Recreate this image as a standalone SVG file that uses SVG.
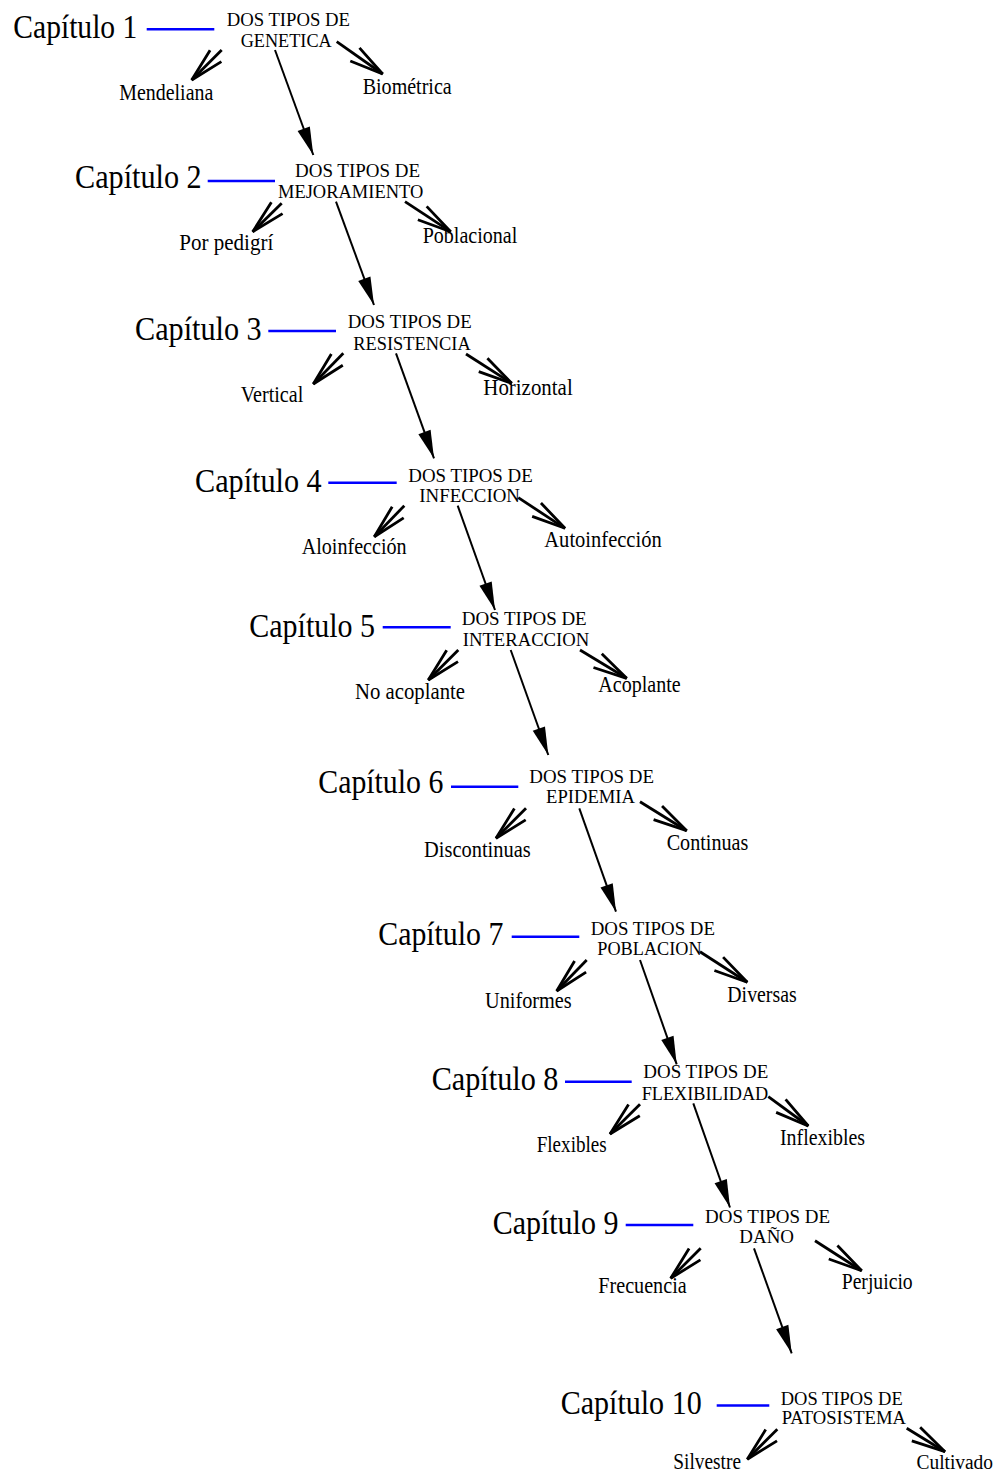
<svg xmlns="http://www.w3.org/2000/svg" width="1000" height="1476" viewBox="0 0 1000 1476">
<style>
text{font-family:"Liberation Serif","Times New Roman",serif;fill:#000}
.cap{font-size:34px}
.nd{font-size:19px}
.lf{font-size:22.5px}
.blue{stroke:#0000ff;stroke-width:2.5;fill:none}
.side{stroke:#000;stroke-width:2.8;fill:none;marker-end:url(#open)}
.main{stroke:#000;stroke-width:2;fill:none;marker-end:url(#solid)}
</style>
<defs>
<marker id="open" markerUnits="userSpaceOnUse" viewBox="-40 -12 44 24" markerWidth="44" markerHeight="24" refX="0" refY="0" orient="auto" overflow="visible">
<path d="M-34,-8 L0,0 L-34,8" fill="none" stroke="#000" stroke-width="2.8"/>
</marker>
<marker id="solid" markerUnits="userSpaceOnUse" viewBox="-30 -8 32 16" markerWidth="32" markerHeight="16" refX="0" refY="0" orient="auto" overflow="visible">
<path d="M-28,-6.5 L0,0 L-28,6.5 Z" fill="#000"/>
</marker>
</defs>
<rect width="1000" height="1476" fill="#fff"/>

<g id="connectors">
<g id="blue-lines">
<line class="blue" x1="146.7" y1="29.3" x2="214.3" y2="29.3"/>
<line class="blue" x1="207.7" y1="181" x2="275" y2="181"/>
<line class="blue" x1="268.3" y1="331" x2="336" y2="331"/>
<line class="blue" x1="328.3" y1="482.7" x2="396.7" y2="482.7"/>
<line class="blue" x1="382.7" y1="627.3" x2="450.7" y2="627.3"/>
<line class="blue" x1="451" y1="786.7" x2="518.3" y2="786.7"/>
<line class="blue" x1="511.7" y1="936.7" x2="579.3" y2="936.7"/>
<line class="blue" x1="565" y1="1081.7" x2="631.7" y2="1081.7"/>
<line class="blue" x1="625.7" y1="1225" x2="693.3" y2="1225"/>
<line class="blue" x1="716.7" y1="1405.5" x2="769.3" y2="1405.5"/>
</g>
<g id="side-arrows">
<line class="side" x1="221.7" y1="50" x2="191.7" y2="80"/>
<line class="side" x1="336.7" y1="41.7" x2="382.7" y2="74"/>
<line class="side" x1="281.7" y1="203.3" x2="252.7" y2="231.7"/>
<line class="side" x1="405" y1="201.7" x2="450.7" y2="231.7"/>
<line class="side" x1="343.3" y1="353.3" x2="313.3" y2="384"/>
<line class="side" x1="466" y1="354" x2="511.7" y2="383.3"/>
<line class="side" x1="404.3" y1="505.7" x2="374.3" y2="536.7"/>
<line class="side" x1="518.3" y1="497.7" x2="565" y2="528.3"/>
<line class="side" x1="458.3" y1="650" x2="428.3" y2="680"/>
<line class="side" x1="580" y1="650" x2="626.7" y2="678.3"/>
<line class="side" x1="526" y1="808.3" x2="496" y2="838.3"/>
<line class="side" x1="640" y1="801.7" x2="686.7" y2="830.7"/>
<line class="side" x1="586.7" y1="960" x2="556.7" y2="991"/>
<line class="side" x1="700" y1="951.7" x2="747.3" y2="982.3"/>
<line class="side" x1="640" y1="1104.3" x2="610" y2="1134"/>
<line class="side" x1="768.3" y1="1096.7" x2="808.3" y2="1126"/>
<line class="side" x1="700.7" y1="1248.3" x2="670.7" y2="1278.3"/>
<line class="side" x1="815" y1="1240.7" x2="861.7" y2="1270.7"/>
<line class="side" x1="777.3" y1="1429.3" x2="747.3" y2="1459.3"/>
<line class="side" x1="906.7" y1="1428.3" x2="945" y2="1451.7"/>
</g>
<g id="main-arrows">
<line class="main" x1="275" y1="50" x2="313.3" y2="155"/>
<line class="main" x1="336" y1="201.7" x2="374" y2="305"/>
<line class="main" x1="396" y1="353.3" x2="434" y2="458.3"/>
<line class="main" x1="457.7" y1="505.7" x2="495" y2="610"/>
<line class="main" x1="510.7" y1="650" x2="548.3" y2="755"/>
<line class="main" x1="579.3" y1="808.3" x2="616" y2="911.7"/>
<line class="main" x1="640" y1="960" x2="676.7" y2="1064.3"/>
<line class="main" x1="693.3" y1="1103.3" x2="730" y2="1207.5"/>
<line class="main" x1="754" y1="1248.3" x2="791.7" y2="1353.3"/>
</g>
</g>

<g id="cap1"><text class="cap" x="13.3" y="37.5" textLength="124" lengthAdjust="spacingAndGlyphs">Capítulo 1</text></g>
<g id="cap2"><text class="cap" x="75" y="187.5" textLength="126.7" lengthAdjust="spacingAndGlyphs">Capítulo 2</text></g>
<g id="cap3"><text class="cap" x="135" y="340" textLength="126.7" lengthAdjust="spacingAndGlyphs">Capítulo 3</text></g>
<g id="cap4"><text class="cap" x="195" y="491.5" textLength="126.7" lengthAdjust="spacingAndGlyphs">Capítulo 4</text></g>
<g id="cap5"><text class="cap" x="249.3" y="636.5" textLength="125.7" lengthAdjust="spacingAndGlyphs">Capítulo 5</text></g>
<g id="cap6"><text class="cap" x="318.3" y="793" textLength="125" lengthAdjust="spacingAndGlyphs">Capítulo 6</text></g>
<g id="cap7"><text class="cap" x="378.3" y="945" textLength="125" lengthAdjust="spacingAndGlyphs">Capítulo 7</text></g>
<g id="cap8"><text class="cap" x="431.7" y="1090" textLength="126.7" lengthAdjust="spacingAndGlyphs">Capítulo 8</text></g>
<g id="cap9"><text class="cap" x="492.7" y="1233.5" textLength="125.7" lengthAdjust="spacingAndGlyphs">Capítulo 9</text></g>
<g id="cap10"><text class="cap" x="560.7" y="1414" textLength="141" lengthAdjust="spacingAndGlyphs">Capítulo 10</text></g>

<g id="node1"><text class="nd" x="226.7" y="26" textLength="123.3" lengthAdjust="spacingAndGlyphs">DOS TIPOS DE</text><text class="nd" x="240.7" y="46.7" textLength="91" lengthAdjust="spacingAndGlyphs">GENETICA</text></g>
<g id="node2"><text class="nd" x="295" y="176.7" textLength="125" lengthAdjust="spacingAndGlyphs">DOS TIPOS DE</text><text class="nd" x="278" y="198.3" textLength="145.3" lengthAdjust="spacingAndGlyphs">MEJORAMIENTO</text></g>
<g id="node3"><text class="nd" x="347.7" y="328.3" textLength="124" lengthAdjust="spacingAndGlyphs">DOS TIPOS DE</text><text class="nd" x="353.3" y="350" textLength="117.4" lengthAdjust="spacingAndGlyphs">RESISTENCIA</text></g>
<g id="node4"><text class="nd" x="408.3" y="481.7" textLength="124.4" lengthAdjust="spacingAndGlyphs">DOS TIPOS DE</text><text class="nd" x="419.3" y="501.7" textLength="100.7" lengthAdjust="spacingAndGlyphs">INFECCION</text></g>
<g id="node5"><text class="nd" x="461.7" y="625" textLength="125" lengthAdjust="spacingAndGlyphs">DOS TIPOS DE</text><text class="nd" x="462.7" y="645.7" textLength="126.6" lengthAdjust="spacingAndGlyphs">INTERACCION</text></g>
<g id="node6"><text class="nd" x="529.3" y="783.3" textLength="124.7" lengthAdjust="spacingAndGlyphs">DOS TIPOS DE</text><text class="nd" x="546" y="803.3" textLength="89" lengthAdjust="spacingAndGlyphs">EPIDEMIA</text></g>
<g id="node7"><text class="nd" x="590.7" y="935" textLength="124.3" lengthAdjust="spacingAndGlyphs">DOS TIPOS DE</text><text class="nd" x="597.3" y="955" textLength="104.4" lengthAdjust="spacingAndGlyphs">POBLACION</text></g>
<g id="node8"><text class="nd" x="643.3" y="1078.3" textLength="125" lengthAdjust="spacingAndGlyphs">DOS TIPOS DE</text><text class="nd" x="641.7" y="1100" textLength="126.6" lengthAdjust="spacingAndGlyphs">FLEXIBILIDAD</text></g>
<g id="node9"><text class="nd" x="705" y="1223.3" textLength="125" lengthAdjust="spacingAndGlyphs">DOS TIPOS DE</text><text class="nd" x="739.3" y="1243.3" textLength="54.7" lengthAdjust="spacingAndGlyphs">DAÑO</text></g>
<g id="node10"><text class="nd" x="780.7" y="1404.5" textLength="122" lengthAdjust="spacingAndGlyphs">DOS TIPOS DE</text><text class="nd" x="781.7" y="1424" textLength="124.3" lengthAdjust="spacingAndGlyphs">PATOSISTEMA</text></g>

<g id="leaf1a"><text class="lf" x="119.3" y="100" textLength="94" lengthAdjust="spacingAndGlyphs">Mendeliana</text></g>
<g id="leaf1b"><text class="lf" x="362.7" y="94" textLength="89" lengthAdjust="spacingAndGlyphs">Biométrica</text></g>
<g id="leaf2a"><text class="lf" x="179.3" y="250" textLength="94" lengthAdjust="spacingAndGlyphs">Por pedigrí</text></g>
<g id="leaf2b"><text class="lf" x="422.7" y="243.3" textLength="94.6" lengthAdjust="spacingAndGlyphs">Poblacional</text></g>
<g id="leaf3a"><text class="lf" x="240.7" y="401.7" textLength="62.6" lengthAdjust="spacingAndGlyphs">Vertical</text></g>
<g id="leaf3b"><text class="lf" x="483.3" y="395" textLength="89.4" lengthAdjust="spacingAndGlyphs">Horizontal</text></g>
<g id="leaf4a"><text class="lf" x="301.7" y="554.3" textLength="105" lengthAdjust="spacingAndGlyphs">Aloinfección</text></g>
<g id="leaf4b"><text class="lf" x="544.3" y="546.7" textLength="117.4" lengthAdjust="spacingAndGlyphs">Autoinfección</text></g>
<g id="leaf5a"><text class="lf" x="355" y="699" textLength="110" lengthAdjust="spacingAndGlyphs">No acoplante</text></g>
<g id="leaf5b"><text class="lf" x="598.3" y="691.7" textLength="82.4" lengthAdjust="spacingAndGlyphs">Acoplante</text></g>
<g id="leaf6a"><text class="lf" x="424" y="856.7" textLength="106.7" lengthAdjust="spacingAndGlyphs">Discontinuas</text></g>
<g id="leaf6b"><text class="lf" x="666.7" y="850" textLength="81.6" lengthAdjust="spacingAndGlyphs">Continuas</text></g>
<g id="leaf7a"><text class="lf" x="485" y="1008.3" textLength="86.7" lengthAdjust="spacingAndGlyphs">Uniformes</text></g>
<g id="leaf7b"><text class="lf" x="727.3" y="1001.7" textLength="69.4" lengthAdjust="spacingAndGlyphs">Diversas</text></g>
<g id="leaf8a"><text class="lf" x="536.7" y="1151.7" textLength="70" lengthAdjust="spacingAndGlyphs">Flexibles</text></g>
<g id="leaf8b"><text class="lf" x="780" y="1145" textLength="85" lengthAdjust="spacingAndGlyphs">Inflexibles</text></g>
<g id="leaf9a"><text class="lf" x="598.3" y="1293.3" textLength="88.4" lengthAdjust="spacingAndGlyphs">Frecuencia</text></g>
<g id="leaf9b"><text class="lf" x="841.7" y="1289.3" textLength="71" lengthAdjust="spacingAndGlyphs">Perjuicio</text></g>
<g id="leaf10a"><text class="lf" x="673.3" y="1468.5" textLength="67.7" lengthAdjust="spacingAndGlyphs">Silvestre</text></g>
<g id="leaf10b"><text class="lf" x="916.5" y="1468.5" style="font-size:20px" textLength="76.5" lengthAdjust="spacingAndGlyphs">Cultivado</text></g>
</svg>
